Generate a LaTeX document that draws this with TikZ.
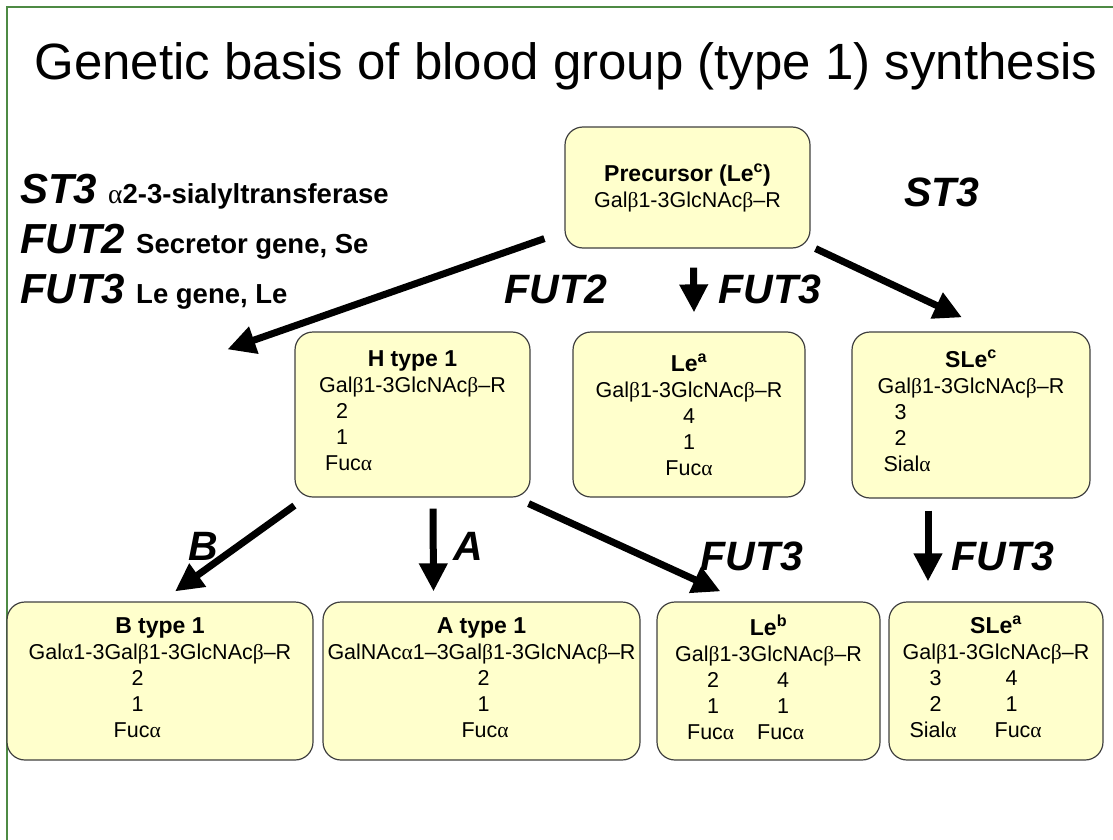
\documentclass[tikz,border=0pt]{standalone}
\usepackage{fontspec}
\setmainfont{Liberation Sans}
\newfontfamily\grkfont{Liberation Serif}
\usetikzlibrary{arrows.meta}
\definecolor{boxfill}{RGB}{255,255,204}
\definecolor{boxline}{RGB}{64,64,64}
\definecolor{framegreen}{RGB}{78,138,68}
\newcommand{\alp}{{\grkfont\mdseries\upshape α}}
\newcommand{\bet}{{\grkfont\mdseries\upshape β}}
\newcommand{\boxhead}[1]{{\fontsize{23}{26}\selectfont\bfseries #1}}
\newcommand{\keyline}[2]{%
  {\fontsize{42}{42}\selectfont\bfseries\itshape #1}\hspace{11pt}%
  {\fontsize{27.5}{27.5}\selectfont\bfseries #2}}
\tikzset{
  glybox/.style  = {draw=boxline,fill=boxfill,line width=1.2pt,rounded corners=18pt,
                    inner sep=0pt,align=center,font=\fontsize{21.5}{26}\selectfont},
  genearr/.style = {-{Triangle[length=28pt,width=27pt]},line width=7pt},
  genelbl/.style = {font=\fontsize{41}{41}\selectfont\bfseries\itshape,inner sep=0pt}
}

\begin{document}
\begin{tikzpicture}[x=1pt,y=-1pt]
  \useasboundingbox (0,0) rectangle (1113,840);
  \draw[framegreen,line width=1.5pt] (7,840) -- (7,7) -- (1113,7);
  \node[font=\fontsize{51}{51}\selectfont,anchor=base,inner sep=0pt] (heading) at (566,80)
    {Genetic basis of blood group (type 1) synthesis};
  % gene key
  \node[anchor=base west,inner sep=0pt] (keyst)  at (20,203) {\keyline{ST3}{\alp2-3-sialyltransferase}};
  \node[anchor=base west,inner sep=0pt] (keyse)  at (20,253) {\keyline{FUT2}{Secretor gene, Se}};
  \node[anchor=base west,inner sep=0pt] (keyle)  at (20,303) {\keyline{FUT3}{Le gene, Le}};
  % structures
  \node[glybox,minimum width=245pt,minimum height=121pt] (prec) at (687.5,187.5)
    {\boxhead{Precursor (Le\textsuperscript{c})}\\Gal\bet1-3GlcNAc\bet–R};
  \node[glybox,minimum width=235pt,minimum height=165pt] (htype) at (412.5,414.5)
    {\boxhead{H type 1}\\\begin{tabular}[t]{@{}l@{}}Gal\bet1-3GlcNAc\bet–R\\
     \hspace*{17pt}2\\\hspace*{17pt}1\\\hspace*{6pt}Fuc\alp\end{tabular}};
  \node[glybox,minimum width=232pt,minimum height=165pt] (lea) at (689,414.5)
    {\boxhead{Le\textsuperscript{a}}\\Gal\bet1-3GlcNAc\bet–R\\4\\1\\Fuc\alp};
  \node[glybox,minimum width=238pt,minimum height=166pt] (slec) at (971,415)
    {\boxhead{SLe\textsuperscript{c}}\\\begin{tabular}[t]{@{}l@{}}Gal\bet1-3GlcNAc\bet–R\\
     \hspace*{17pt}3\\\hspace*{17pt}2\\\hspace*{6pt}Sial\alp\end{tabular}};
  \node[glybox,minimum width=306pt,minimum height=158pt] (btype) at (160,681)
    {\boxhead{B type 1}\\\begin{tabular}[t]{@{}l@{}}Gal\alp1-3Gal\bet1-3GlcNAc\bet–R\\
     \hspace*{103pt}2\\\hspace*{103pt}1\\\hspace*{85pt}Fuc\alp\end{tabular}};
  \node[glybox,minimum width=317pt,minimum height=158pt] (atype) at (481.5,681)
    {\boxhead{A type 1}\\\begin{tabular}[t]{@{}l@{}}GalNAc\alp1–3Gal\bet1-3GlcNAc\bet–R\\
     \hspace*{150pt}2\\\hspace*{150pt}1\\\hspace*{134pt}Fuc\alp\end{tabular}};
  \node[glybox,minimum width=223pt,minimum height=158pt] (leb) at (768.5,681)
    {\boxhead{Le\textsuperscript{b}}\\\begin{tabular}[t]{@{}l@{}}Gal\bet1-3GlcNAc\bet–R\\
     \hspace*{32pt}\makebox[70pt][l]{2}4\\\hspace*{32pt}\makebox[70pt][l]{1}1\\
     \hspace*{12pt}\makebox[70pt][l]{Fuc\alp}Fuc\alp\end{tabular}};
  \node[glybox,minimum width=214pt,minimum height=158pt] (slea) at (996,681)
    {\boxhead{SLe\textsuperscript{a}}\\\begin{tabular}[t]{@{}l@{}}Gal\bet1-3GlcNAc\bet–R\\
     \hspace*{27pt}\makebox[76pt][l]{3}4\\\hspace*{27pt}\makebox[76pt][l]{2}1\\
     \hspace*{7pt}\makebox[85pt][l]{Sial\alp}Fuc\alp\end{tabular}};
  % enzyme steps
  \draw[genearr] ([xshift=-20pt,yshift=10pt]prec.south west) -- ([xshift=-67pt,yshift=-18pt]htype.north west);
  \draw[genearr] ([xshift=6pt,yshift=-19pt]prec.south) -- ([xshift=5pt,yshift=19pt]lea.north);
  \draw[genearr] ([xshift=5pt]prec.south east) -- ([xshift=-9pt,yshift=14pt]slec.north);
  \draw[genearr] ([yshift=-8pt]htype.south west) -- ([xshift=15pt,yshift=10pt]btype.north);
  \draw[genearr] ([xshift=20.5pt,yshift=-11pt]htype.south) -- ([xshift=-48pt,yshift=10pt]atype.north);
  \draw[genearr] ([xshift=-2pt,yshift=-6pt]htype.south east) -- ([xshift=-48pt,yshift=10pt]leb.north);
  \draw[genearr] ([xshift=-43pt,yshift=-12pt]slec.south) -- ([xshift=-68pt,yshift=20pt]slea.north);
  \node[genelbl] (lblfuttwo)   at (556,289)  {FUT2};
  \node[genelbl] (lblfutmid)   at (770,289)  {FUT3};
  \node[genelbl] (lblst)       at (942,192)  {ST3};
  \node[genelbl] (lblb)        at (203,546)  {B};
  \node[genelbl] (lbla)        at (468,546)  {A};
  \node[genelbl] (lblfutleb)   at (752,556)  {FUT3};
  \node[genelbl] (lblfutslea)  at (1003,556) {FUT3};
\end{tikzpicture}
\end{document}
